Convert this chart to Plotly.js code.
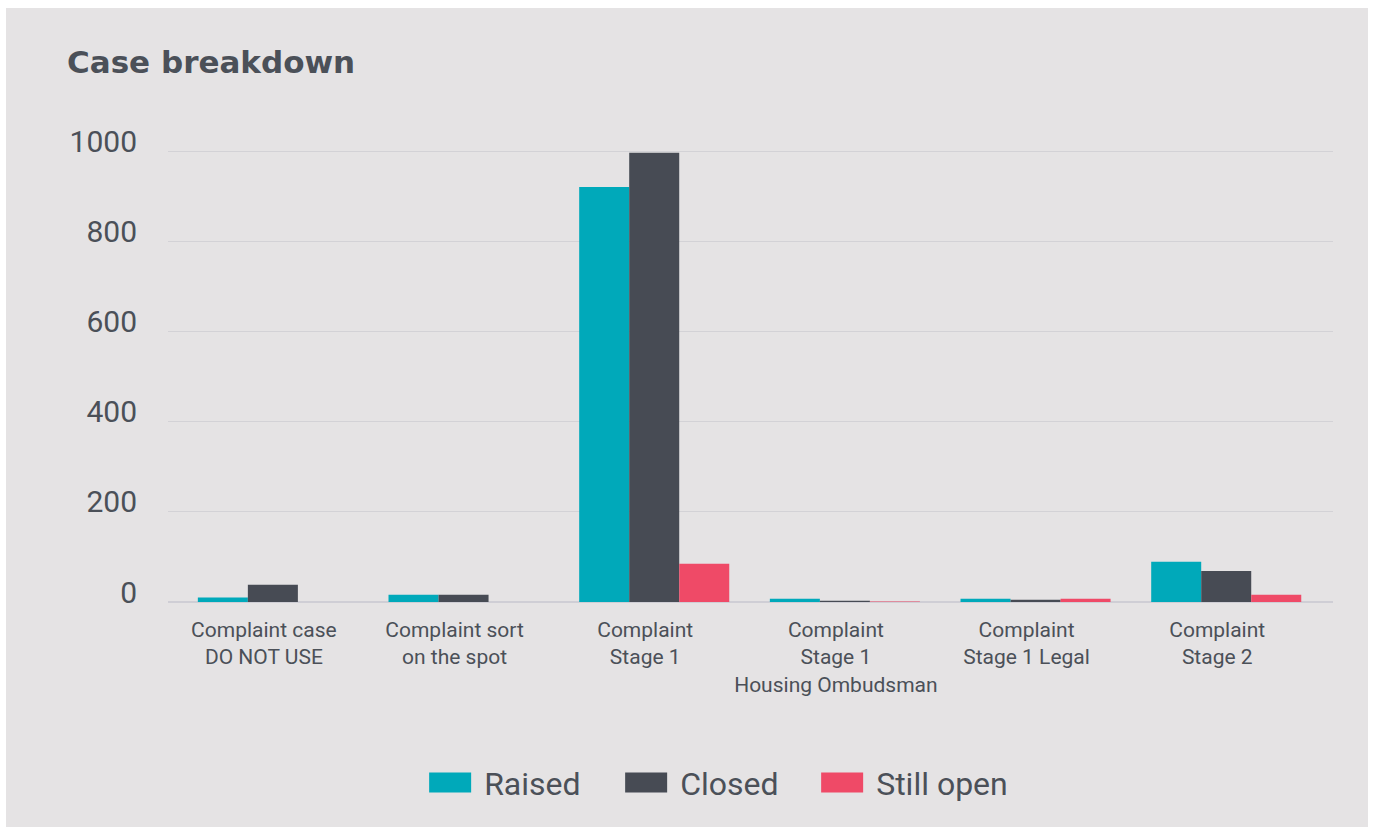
<!DOCTYPE html>
<html>
<head>
<meta charset="utf-8">
<script src="https://cdn.plot.ly/plotly-3.0.1.min.js"></script>
<style>
html,body{margin:0;padding:0;background:#ffffff;width:1373px;height:827px;overflow:hidden;}
#wrap{position:absolute;left:6px;top:8px;width:1362px;height:819px;background:#e5e3e4;}
#chart{width:1362px;height:819px;}
</style>
</head>
<body>
<div id="wrap"><div id="chart"></div></div>
<script>
const categories = [
  "Complaint case<br>DO NOT USE",
  "Complaint sort<br>on the spot",
  "Complaint<br>Stage 1",
  "Complaint<br>Stage 1<br>Housing Ombudsman",
  "Complaint<br>Stage 1 Legal",
  "Complaint<br>Stage 2"
];
const raised    = [10, 16, 920, 7, 7, 89];
const closed    = [38, 16, 996, 3, 5, 69];
const stillOpen = [0, 0, 85, 1, 7, 16];
const seriesNames = ["Raised", "Closed", "Still open"];
const seriesColors = ["#00a9ba", "#474b54", "#ef4a67"];
const yTicks = [0, 200, 400, 600, 800, 1000];

const textColor = "#4b5058";
const values = [raised, closed, stillOpen];
const traces = values.map((v, i) => ({
  type: "bar",
  name: seriesNames[i],
  x: categories,
  y: v,
  marker: {color: seriesColors[i], line: {width: 0}},
  hoverinfo: "x+y+name"
}));

const layout = {
  width: 1362,
  height: 819,
  paper_bgcolor: "rgba(0,0,0,0)",
  plot_bgcolor: "rgba(0,0,0,0)",
  margin: {l: 162, r: 35, t: 134, b: 225},
  barmode: "group",
  bargap: 0.213,
  bargroupgap: 0,
  font: {family: "Roboto, sans-serif", color: textColor},
  title: {
    text: "<b>Case breakdown</b>",
    font: {family: "DejaVu Sans, sans-serif", size: 31, color: "#4b5058"},
    x: 61 / 1362, xref: "container", xanchor: "left",
    y: 1 - 54 / 819, yref: "container", yanchor: "middle"
  },
  xaxis: {
    type: "category",
    range: [-0.55, 5.56],
    showgrid: false,
    showline: false,
    zeroline: false,
    ticks: "",
    tickfont: {family: "Roboto, sans-serif", size: 21, color: textColor},
    ticklabelstandoff: 13,
    ticklabelshift: -9,
    fixedrange: true
  },
  yaxis: {
    range: [0, 1020],
    tickvals: yTicks,
    ticktext: yTicks.map(String),
    showgrid: true,
    gridcolor: "#d3d2d6",
    gridwidth: 1,
    zeroline: true,
    zerolinecolor: "#cfced5",
    zerolinewidth: 2,
    showline: false,
    ticks: "",
    tickfont: {family: "Roboto, sans-serif", size: 30, color: textColor},
    ticklabelstandoff: 30,
    ticklabelshift: -10,
    fixedrange: true
  },
  showlegend: true,
  legend: {
    orientation: "h",
    x: 0.213, xanchor: "left",
    y: -0.393, yanchor: "middle",
    font: {family: "Roboto, sans-serif", size: 32, color: textColor},
    itemwidth: 58,
    entrywidth: 123,
    traceorder: "normal",
    bgcolor: "rgba(0,0,0,0)"
  }
};

Plotly.newPlot("chart", traces, layout, {displayModeBar: false, staticPlot: true}).then(() => {
  // widen the legend swatches to the reference's flat rectangles
  document.querySelectorAll("#chart .legend .legendpoints path").forEach(p => {
    const base = p.getAttribute("transform") || "";
    p.setAttribute("transform", base + " scale(3.5,1.67)");
  });
  // let the last legend label show in full
  document.querySelectorAll("#chart .legend [clip-path]").forEach(e => e.removeAttribute("clip-path"));
});
</script>
</body>
</html>
